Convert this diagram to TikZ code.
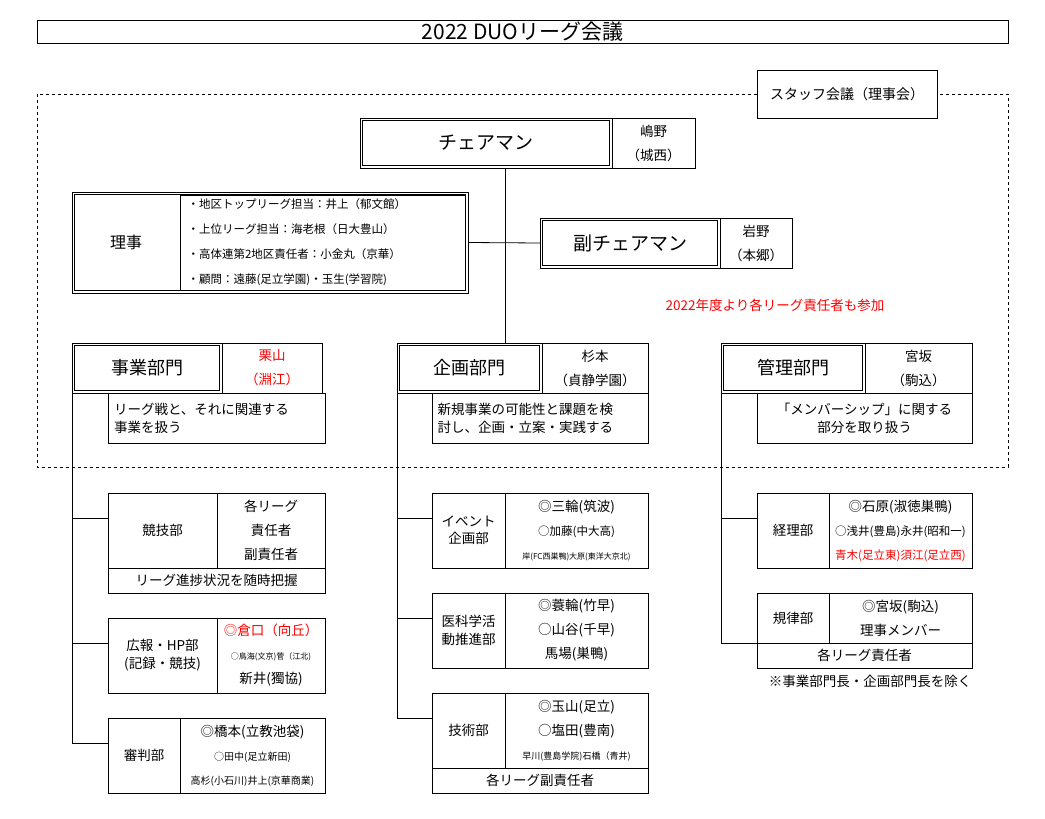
\documentclass[tikz,border=0pt]{standalone}
\usepackage{fontspec}
\setmainfont{Noto Sans CJK JP}
\begin{document}
\begin{tikzpicture}[x=1pt,y=-1pt,
  bx/.style={draw,line width=0.8pt,inner sep=0pt,outer sep=0pt,align=center,font=\fontsize{13.5}{24}\selectfont},
  dbl/.style={bx},
  inner/.style={line width=0.8pt},
  ln/.style={line width=0.8pt}]
\newcommand\bx[7]{\node[#6,minimum width={(#4-#2)*1pt},minimum height={(#5-#3)*1pt}] (#1) at ({(#2+#4)/2},{(#3+#5)/2}) {#7};}
\newcommand\inbox[1]{\draw[inner] ([shift={(2.5,2.5)}]#1.north west) rectangle ([shift={(-2.5,-2.5)}]#1.south east);}
\useasboundingbox (0,0) rectangle (1045,819);
% title
\bx{title}{37}{20}{1008}{43}{bx,font=\fontsize{21}{24}\selectfont}{2022 DUOリーグ会議}
\draw[dashed,line width=0.6pt] (37,94) rectangle (1008,467);
\bx{staff}{757}{70}{937}{118}{bx,fill=white,font=\fontsize{14}{24}\selectfont}{スタッフ会議（理事会）}
% chair
\bx{chair}{360}{118}{612}{168}{dbl,font=\fontsize{19}{24}\selectfont}{チェアマン}
\inbox{chair}
\bx{chairn}{612}{118}{695}{168}{bx}{嶋野\\（城西）}
\bx{rijiall}{72}{192}{468}{293}{bx}{}
\inbox{rijiall}
\bx{riji}{72}{192}{180}{293}{bx,draw=none,font=\fontsize{16}{24}\selectfont}{理事}
\bx{rijit}{180}{195}{465}{290}{bx,align=left,text width=270pt,font=\fontsize{11.5}{25}\selectfont}{・地区トップリーグ担当：井上（郁文館）\\・上位リーグ担当：海老根（日大豊山）\\・高体連第2地区責任者：小金丸（京華）\\・顧問：遠藤(足立学園)・玉生(学習院)}
\bx{vice}{540}{218}{720}{268}{dbl,font=\fontsize{19}{24}\selectfont}{副チェアマン}
\inbox{vice}
\bx{vicen}{720}{218}{792}{268}{bx}{岩野\\（本郷）}
\node[text=red,font=\fontsize{13.5}{16}\selectfont] (note1) at (775,305) {2022年度より各リーグ責任者も参加};
% departments
\bx{jigyo}{72}{343}{222}{393}{dbl,font=\fontsize{18}{24}\selectfont}{事業部門}
\inbox{jigyo}
\bx{jigyon}{222}{343}{322}{393}{bx,text=red}{栗山\\（淵江）}
\bx{jigyod}{108}{393}{325}{443}{bx,align=left,text width=205pt,font=\fontsize{13.5}{18}\selectfont}{リーグ戦と、それに関連する\\事業を扱う}
\bx{kikaku}{397}{343}{542}{393}{dbl,font=\fontsize{18}{24}\selectfont}{企画部門}
\inbox{kikaku}
\bx{kikakun}{542}{343}{648}{393}{bx}{杉本\\（貞静学園）}
\bx{kikakud}{432}{393}{648}{443}{bx,align=left,text width=205pt,font=\fontsize{13.5}{18}\selectfont}{新規事業の可能性と課題を検\\討し、企画・立案・実践する}
\bx{kanri}{721}{343}{865}{393}{dbl,font=\fontsize{18}{24}\selectfont}{管理部門}
\inbox{kanri}
\bx{kanrin}{865}{343}{972}{393}{bx}{宮坂\\（駒込）}
\bx{kanrid}{757}{393}{972}{443}{bx,font=\fontsize{13.5}{18}\selectfont}{「メンバーシップ」に関する\\部分を取り扱う}
% left column
\bx{kyogi}{108}{493}{217}{568}{bx}{競技部}
\bx{kyogin}{217}{493}{325}{568}{bx}{各リーグ\\責任者\\副責任者}
\bx{kyogid}{108}{568}{325}{593}{bx}{リーグ進捗状況を随時把握}
\bx{koho}{108}{618}{217}{693}{bx,font=\fontsize{13.5}{18}\selectfont}{広報・HP部\\(記録・競技)}
\bx{kohon}{217}{618}{325}{693}{bx}{\textcolor{red}{◎倉口（向丘）}\\{\fontsize{8}{22}\selectfont ○鳥海(文京)菅（江北)}\\新井(獨協)}
\bx{shin}{108}{718}{180}{793}{bx}{審判部}
\bx{shinn}{180}{718}{325}{793}{bx}{◎橋本(立教池袋)\\{\fontsize{10}{22}\selectfont ○田中(足立新田)}\\{\fontsize{10}{22}\selectfont 高杉(小石川)井上(京華商業)}}
% middle column
\bx{event}{432}{493}{505}{568}{bx,font=\fontsize{13.5}{17}\selectfont}{イベント\\企画部}
\bx{eventn}{505}{493}{648}{568}{bx}{◎三輪(筑波)\\{\fontsize{11.5}{22}\selectfont ○加藤(中大高)}\\{\fontsize{8}{22}\selectfont 岸(FC西巣鴨)大原(東洋大京北)}}
\bx{ika}{432}{593}{505}{668}{bx,font=\fontsize{13.5}{18}\selectfont}{医科学活\\動推進部}
\bx{ikan}{505}{593}{648}{668}{bx}{◎蓑輪(竹早)\\○山谷(千早)\\馬場(巣鴨)}
\bx{gijutsu}{432}{693}{505}{768}{bx}{技術部}
\bx{gijutsun}{505}{693}{648}{768}{bx}{◎玉山(足立)\\○塩田(豊南)\\{\fontsize{9}{22}\selectfont 早川(豊島学院)石橋（青井)}}
\bx{gijutsud}{432}{768}{648}{793}{bx}{各リーグ副責任者}
% right column
\bx{keiri}{757}{493}{829}{568}{bx}{経理部}
\bx{keirin}{829}{493}{972}{568}{bx}{◎石原(淑徳巣鴨)\\{\fontsize{11.5}{22}\selectfont ○浅井(豊島)永井(昭和一)}\\{\fontsize{11.5}{22}\selectfont\color{red}青木(足立東)須江(足立西)}}
\bx{kiritsu}{757}{593}{829}{643}{bx}{規律部}
\bx{kiritsun}{829}{593}{972}{643}{bx}{◎宮坂(駒込)\\理事メンバー}
\bx{kiritsud}{757}{643}{972}{668}{bx}{各リーグ責任者}
\node[font=\fontsize{13.5}{16}\selectfont] (note2) at (870,681) {※事業部門長・企画部門長を除く};
% connectors
\coordinate (t1) at (505,168);
\coordinate (t2) at (505,343);
\draw[ln] (t1) -- (t2);
\draw[ln] (rijiall.east) -- (vice.west);
\coordinate (l1) at (72,518); \coordinate (l2) at (72,643); \coordinate (l3) at (72,743);
\draw[ln] (jigyo.south west) -- (l3) -- (shin.west |- l3);
\draw[ln] (l1) -- (kyogi.west |- l1);
\draw[ln] (l2) -- (koho.west |- l2);
\coordinate (m1) at (397,518); \coordinate (m2) at (397,618); \coordinate (m3) at (397,718);
\draw[ln] (kikaku.south west) -- (m3) -- (gijutsu.west |- m3);
\draw[ln] (m1) -- (event.west |- m1);
\draw[ln] (m2) -- (ika.west |- m2);
\coordinate (r1) at (721,518); \coordinate (r2) at (721,643);
\draw[ln] (kanri.south west) -- (r2) -- (kiritsu.south west);
\draw[ln] (r1) -- (keiri.west |- r1);
\end{tikzpicture}
\end{document}
